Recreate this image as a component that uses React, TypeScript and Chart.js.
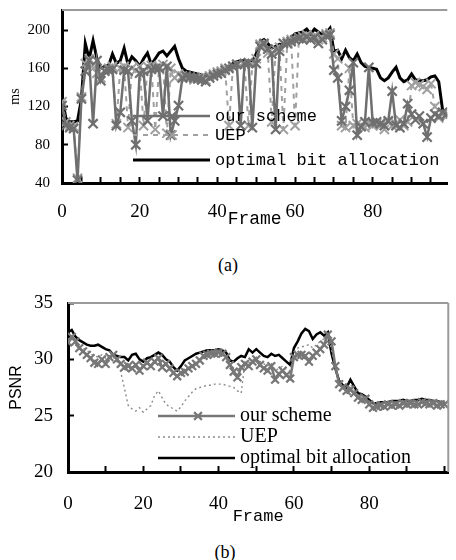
import React, { useEffect, useRef } from "react";
import { Chart, registerables } from "chart.js";

Chart.register(...registerables);

// ---------- data ----------
const SERIES_LABELS = ["our scheme", "UEP", "optimal bit allocation"];
const FRAMES_A = Array.from({ length: 100 }, (_, i) => i);
const FRAMES_B = Array.from({ length: 101 }, (_, i) => i);

const X_MARKS_A = [0, 5, 10, 15, 20, 25, 30, 35, 40, 45, 50, 55, 60, 65, 70, 75, 80, 85, 90, 95];
const X_MARKS_B = [0, 10, 20, 30, 40, 50, 60, 70, 80, 90, 100];
const X_LABELED = [0, 20, 40, 60, 80];
const Y_TICKS_A = [40, 80, 120, 160, 200];
const Y_TICKS_B = [20, 25, 30, 35];

// (a) delay, ms
const DELAY_OUR = [
  121, 100, 98, 97, 43, 128, 157, 168, 102, 168, 147, 157, 158, 159, 100, 114, 158, 157, 105, 80,
  155, 157, 105, 159, 160, 160, 110, 162, 90, 105, 121, 150, 152, 151, 150, 149, 148, 146, 150, 152,
  154, 155, 158, 160, 162, 164, 100, 165, 166, 98, 165, 183, 186, 180, 175, 96, 178, 186, 186, 188,
  190, 191, 190, 193, 190, 192, 186, 190, 194, 195, 158, 150, 105, 120, 137, 166, 90, 99, 104, 161,
  103, 104, 102, 100, 105, 136, 100, 98, 102, 123, 112, 106, 110, 102, 88, 108, 112, 110, 114, 112,
];
const DELAY_UEP = [
  125, 104, 100, 99, 45, 130, 165, 170, 160, 155, 150, 158, 160, 162, 102, 160, 162, 98, 160, 158,
  162, 100, 162, 163, 96, 162, 164, 92, 160, 150, 154, 152, 150, 150, 148, 150, 151, 148, 152, 154,
  156, 157, 160, 100, 162, 164, 163, 165, 100, 164, 170, 185, 184, 176, 104, 180, 182, 96, 188, 190,
  100, 192, 193, 195, 192, 194, 190, 192, 196, 197, 175, 170, 100, 98, 160, 100, 102, 100, 98, 104,
  100, 102, 100, 96, 104, 100, 102, 106, 100, 104, 142, 145, 143, 141, 138, 144, 120, 108, 112, 110,
];
const DELAY_OPT = [
  130, 108, 104, 104, 105, 128, 186, 170, 189, 170, 160, 162, 163, 175, 165, 168, 181, 164, 172, 168,
  162, 170, 176, 164, 170, 176, 178, 173, 178, 183, 170, 160, 157, 156, 155, 154, 153, 152, 153, 155,
  157, 158, 160, 162, 165, 167, 168, 168, 167, 166, 175, 188, 190, 186, 181, 183, 185, 184, 187, 192,
  196, 197, 198, 201, 196, 201, 198, 195, 197, 202, 178, 179, 170, 179, 171, 168, 175, 166, 162, 161,
  160, 159, 150, 147, 150, 156, 161, 150, 146, 148, 154, 148, 147, 147, 148, 151, 152, 146, 116, 115,
];

// (b) PSNR
const PSNR_OUR = [
  31.5, 32.0, 31.6, 31.0, 30.7, 30.4, 30.1, 29.7, 29.6, 30.0, 29.6, 30.2, 30.4, 30.0, 29.6, 29.3, 29.4, 29.2, 29.5, 29.0,
  29.4, 29.7, 29.4, 29.8, 30.1, 29.3, 29.6, 29.2, 28.8, 28.5, 28.8, 28.9, 29.2, 29.4, 29.6, 29.9, 30.3, 30.4, 30.5, 30.5,
  30.6, 30.5, 30.2, 29.5, 28.9, 28.4, 29.3, 29.6, 29.4, 29.8, 30.0, 29.5, 29.2, 29.0, 29.4, 28.2, 28.7, 29.0, 28.6, 28.3,
  30.2, 30.4, 30.4, 30.3, 29.8, 30.3, 30.6, 30.9, 31.3, 32.2, 31.6, 29.4, 27.8, 27.5, 27.2, 27.3, 27.0, 26.6, 26.4, 26.5,
  26.0, 25.7, 25.8, 25.9, 25.8, 26.0, 25.9, 26.0, 25.9, 26.1, 26.0, 26.1, 26.0, 26.0, 26.2, 26.1, 26.0, 26.1, 25.9, 26.0,
  26.0,
];
const PSNR_UEP = [
  31.8, 31.9, 31.4, 31.2, 31.0, 30.8, 30.5, 30.3, 30.2, 30.4, 30.1, 30.3, 30.2, 29.8, 28.9, 27.4, 25.9, 25.6, 25.4, 25.7,
  25.3, 25.6, 25.9, 26.8, 27.2, 26.6, 26.0, 25.8, 25.6, 25.4, 25.8, 26.3, 26.7, 27.1, 27.4, 27.5, 27.6, 27.7, 27.7, 27.8,
  27.8, 27.8, 27.7, 27.6, 27.5, 27.2, 27.0, 29.8, 29.7, 29.9, 30.2, 29.8, 29.6, 29.4, 29.7, 29.0, 29.2, 29.4, 29.1, 29.0,
  30.6, 31.0, 31.1, 31.2, 31.3, 31.0, 31.3, 31.6, 31.8, 32.0, 30.8, 29.3, 28.0, 27.6, 27.4, 27.8, 27.3, 26.8, 26.6, 26.6,
  26.3, 26.1, 26.2, 26.2, 26.1, 26.3, 26.2, 26.3, 26.2, 26.4, 26.2, 26.4, 26.3, 26.3, 26.5, 26.3, 26.3, 26.4, 26.2, 26.3,
  26.3,
];
const PSNR_OPT = [
  32.4, 32.6, 32.0, 31.7, 31.5, 31.3, 31.2, 31.2, 31.3, 31.1, 30.9, 30.8, 30.4, 30.3, 30.2, 30.2, 29.9, 30.4, 30.5, 30.0,
  29.8, 30.1, 30.2, 30.4, 30.6, 30.4, 30.0, 29.8, 29.3, 29.0, 29.4, 29.9, 30.1, 30.3, 30.5, 30.6, 30.7, 30.8, 30.8, 30.8,
  30.9, 30.8, 30.6, 29.9, 29.8, 30.1, 30.3, 30.2, 30.9, 30.6, 30.9, 30.6, 30.3, 30.2, 30.5, 30.3, 30.4, 30.1, 29.8, 29.5,
  31.0, 31.6, 32.3, 32.7, 32.5, 31.8, 32.2, 32.4, 32.1, 32.4, 30.5, 29.2, 28.1, 27.7, 27.5, 28.2, 27.6, 27.0, 26.9, 26.7,
  26.4, 26.1, 26.1, 26.2, 26.2, 26.2, 26.3, 26.3, 26.3, 26.4, 26.3, 26.3, 26.4, 26.4, 26.5, 26.4, 26.4, 26.3, 26.3, 26.2,
  26.2,
];

const SERIF = "Liberation Serif";
const MONO = "Liberation Mono";

const SPEC_A = {
  width: 456, height: 240, top: 0,
  frames: FRAMES_A, our: DELAY_OUR, uep: DELAY_UEP, opt: DELAY_OPT,
  xMax: 99.2, yMin: 40, yMax: 221, xMarks: X_MARKS_A, yTicks: Y_TICKS_A,
  yTitle: "ms", yTitleFont: { family: SERIF, size: 14 }, yTitlePad: 7,
  yTickFont: { family: SERIF, size: 15 }, yTickPad: 18, yWidth: 62,
  xTickFont: { family: SERIF, size: 19 }, xTickPad: 24, xHeight: 47,
  xTitleFont: { family: MONO, size: 18 },
  padding: { top: 10, right: 0, bottom: 10, left: 0 },
  legend: { x0: 133, x1: 210, markX: 172, textX: 215, rows: [116, 135, 160], font: `17px "${MONO}"` },
  styles: {
    our: { color: "#6f6f6f", width: 2.5, dash: [], radius: 6.5, pw: 2.2 },
    uep: { color: "#a0a0a0", width: 2, dash: [5, 5], radius: 6.5, pw: 2 },
    opt: { color: "#000000", width: 3, dash: [], radius: 0, pw: 0 },
  },
  rightBorder: false,
};

const SPEC_B = {
  width: 456, height: 250, top: 290,
  frames: FRAMES_B, our: PSNR_OUR, uep: PSNR_UEP, opt: PSNR_OPT,
  xMax: 101, yMin: 20, yMax: 35, xMarks: X_MARKS_B, yTicks: Y_TICKS_B,
  yTitle: "PSNR", yTitleFont: { family: "Liberation Sans", size: 16 }, yTitlePad: 7,
  yTickFont: { family: SERIF, size: 19 }, yTickPad: 21, yWidth: 68,
  xTickFont: { family: SERIF, size: 19 }, xTickPad: 27, xHeight: 55,
  xTitleFont: { family: MONO, size: 17 },
  padding: { top: 13, right: 4, bottom: 13, left: 0 },
  legend: { x0: 158, x1: 235, markX: 198, textX: 240, rows: [126, 147, 168], font: `20px "${SERIF}"` },
  styles: {
    our: { color: "#777777", width: 2.5, dash: [], radius: 5.5, pw: 2.2 },
    uep: { color: "#8c8c8c", width: 1.4, dash: [2, 3], radius: 0, pw: 0 },
    opt: { color: "#000000", width: 2.5, dash: [], radius: 0, pw: 0 },
  },
  rightBorder: true,
};

function buildChart(canvas: HTMLCanvasElement, spec: any) {
  const mk = (label: string, data: number[], st: any, order: number) => ({
    label,
    data,
    order,
    borderColor: st.color,
    borderWidth: st.width,
    borderDash: st.dash,
    pointStyle: "crossRot",
    pointRadius: st.radius,
    pointHoverRadius: st.radius,
    pointBorderColor: st.color,
    pointBorderWidth: st.pw,
    pointBackgroundColor: st.color,
    tension: 0,
    fill: false,
    _legend: st,
  });

  const legendPlugin = {
    id: "insetLegend",
    afterDatasetsDraw(chart: any) {
      const ctx = chart.ctx;
      const L = spec.legend;
      ctx.save();
      chart.data.datasets.forEach((ds: any, i: number) => {
        const st = ds._legend;
        const y = L.rows[i];
        ctx.strokeStyle = st.color;
        ctx.lineWidth = st.width;
        ctx.setLineDash(st.dash);
        ctx.beginPath();
        ctx.moveTo(L.x0, y);
        ctx.lineTo(L.x1, y);
        ctx.stroke();
        ctx.setLineDash([]);
        if (st.radius > 0) {
          const o = st.radius * Math.SQRT1_2;
          ctx.lineWidth = st.pw;
          ctx.beginPath();
          ctx.moveTo(L.markX - o, y - o);
          ctx.lineTo(L.markX + o, y + o);
          ctx.moveTo(L.markX - o, y + o);
          ctx.lineTo(L.markX + o, y - o);
          ctx.stroke();
        }
        ctx.fillStyle = "#000";
        ctx.font = L.font;
        ctx.textBaseline = "middle";
        ctx.textAlign = "left";
        ctx.fillText(ds.label, L.textX, y);
      });
      ctx.restore();
    },
  };

  const framePlugin = {
    id: "frameLines",
    afterDraw(chart: any) {
      const { ctx, chartArea } = chart;
      ctx.save();
      ctx.strokeStyle = "#9a9a9a";
      ctx.lineWidth = 2;
      ctx.setLineDash([]);
      ctx.beginPath();
      ctx.moveTo(chartArea.left, chartArea.top);
      ctx.lineTo(chartArea.right, chartArea.top);
      if (spec.rightBorder) {
        ctx.moveTo(chartArea.right, chartArea.top);
        ctx.lineTo(chartArea.right, chartArea.bottom);
      }
      ctx.stroke();
      ctx.restore();
    },
  };

  const gridOpts = {
    display: true,
    drawOnChartArea: false,
    drawTicks: true,
    tickLength: -6,
    tickWidth: 2,
    tickColor: "#000",
  };

  const zeroPad = (s: any) => {
    s.paddingLeft = 0;
    s.paddingRight = 0;
    s.paddingTop = 0;
    s.paddingBottom = 0;
  };

  return new Chart(canvas, {
    type: "line",
    data: {
      labels: spec.frames,
      datasets: [
        mk(SERIES_LABELS[0], spec.our, spec.styles.our, 1),
        mk(SERIES_LABELS[1], spec.uep, spec.styles.uep, 2),
        mk(SERIES_LABELS[2], spec.opt, spec.styles.opt, 3),
      ] as any,
    },
    options: {
      animation: false,
      responsive: false,
      maintainAspectRatio: false,
      devicePixelRatio: 1,
      events: [],
      layout: { padding: spec.padding },
      plugins: { legend: { display: false }, tooltip: { enabled: false } },
      scales: {
        x: {
          type: "linear",
          min: 0,
          max: spec.xMax,
          afterBuildTicks: (s: any) => {
            s.ticks = spec.xMarks.map((v: number) => ({ value: v }));
          },
          afterFit: (s: any) => {
            s.height = spec.xHeight;
            zeroPad(s);
          },
          ticks: {
            autoSkip: false,
            maxRotation: 0,
            minRotation: 0,
            padding: spec.xTickPad,
            color: "#000",
            font: spec.xTickFont,
            callback: (v: any) => (X_LABELED.includes(Number(v)) ? String(v) : ""),
          },
          grid: gridOpts,
          border: { display: true, color: "#000", width: 3 },
          title: { display: true, text: "Frame", color: "#000", font: spec.xTitleFont, padding: { top: 0, bottom: 0 } },
        },
        y: {
          type: "linear",
          min: spec.yMin,
          max: spec.yMax,
          afterBuildTicks: (s: any) => {
            s.ticks = spec.yTicks.map((v: number) => ({ value: v }));
          },
          afterFit: (s: any) => {
            s.width = spec.yWidth;
            zeroPad(s);
          },
          ticks: {
            padding: spec.yTickPad,
            color: "#000",
            font: spec.yTickFont,
            callback: (v: any) => String(v),
          },
          grid: gridOpts,
          border: { display: true, color: "#000", width: 3 },
          title: { display: true, text: spec.yTitle, color: "#000", font: spec.yTitleFont, padding: { top: spec.yTitlePad, bottom: 0 } },
        },
      },
    } as any,
    plugins: [legendPlugin, framePlugin],
  });
}

function Panel({ spec }: { spec: any }) {
  const ref = useRef<HTMLCanvasElement | null>(null);
  useEffect(() => {
    if (!ref.current) return;
    const chart = buildChart(ref.current, spec);
    return () => chart.destroy();
  }, [spec]);
  return (
    <canvas
      ref={ref}
      width={spec.width}
      height={spec.height}
      style={{ position: "absolute", left: 0, top: spec.top, width: spec.width, height: spec.height }}
    />
  );
}

export default function App() {
  const caption = {
    position: "absolute" as const,
    width: 456,
    textAlign: "center" as const,
    fontFamily: `"${SERIF}", serif`,
    fontSize: 18,
    lineHeight: "22px",
    color: "#000",
  };
  return (
    <div style={{ position: "absolute", left: 0, top: 0, width: 456, height: 560, background: "#fff", overflow: "hidden" }}>
      <Panel spec={SPEC_A} />
      <div style={{ ...caption, left: 0, top: 254 }}>(a)</div>
      <Panel spec={SPEC_B} />
      <div style={{ ...caption, left: -3, top: 541 }}>(b)</div>
    </div>
  );
}
